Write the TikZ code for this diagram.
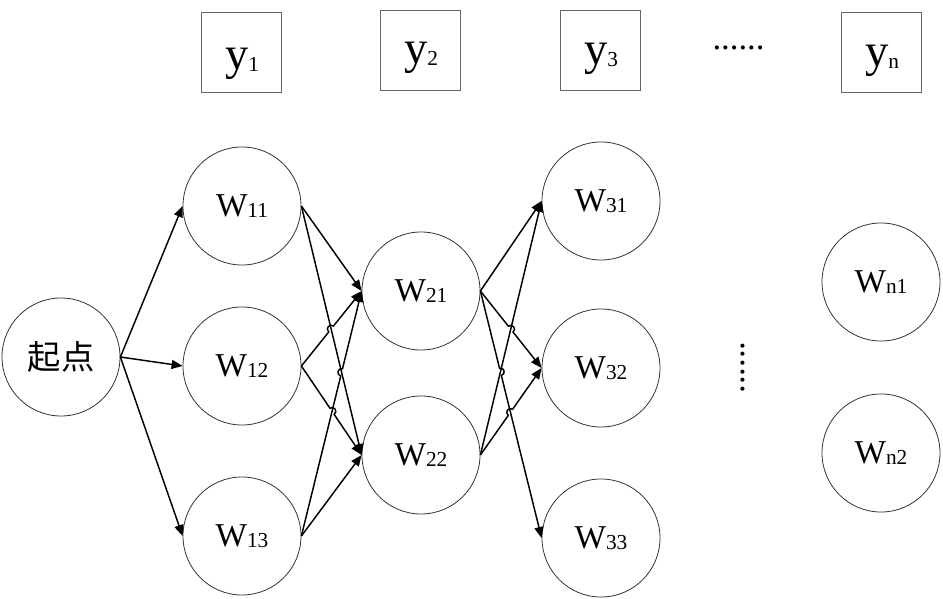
\documentclass[tikz,border=0pt]{standalone}
\usepackage{fontspec}
\setmainfont{Liberation Serif}
\newfontfamily\cjk{Noto Sans CJK SC}
\usetikzlibrary{arrows.meta,calc}
\newcommand\wlab[1]{{\fontsize{25pt}{25pt}\selectfont W}\raisebox{-0.8pt}{\fontsize{16pt}{16pt}\selectfont #1}}
\newcommand\ylab[1]{{\fontsize{35pt}{35pt}\selectfont y}\raisebox{-1.5pt}{\fontsize{16pt}{16pt}\selectfont #1}}
\def\myhopr{2.8pt}
\newcommand\hopedge[4]{%
  \path (intersection of #1.east--#2.west and #3.east--#4.west) coordinate (hx);
  \draw[conn] (#1.east) -- ($(hx)!\myhopr!(#1.east)$) to[bend left=90,looseness=1.7] ($(hx)!\myhopr!(#2.west)$) -- (#2.west);
}
\begin{document}
\begin{tikzpicture}[x=0.75pt,y=-0.75pt,
  circ/.style={circle,draw=black!80,line width=0.6pt,minimum size=88.5pt,inner sep=0pt},
  ybox/.style={draw=black!60,line width=0.7pt,minimum size=60pt,inner sep=0pt},
  conn/.style={line width=1.1pt,-{Triangle[length=8.25pt,width=6.75pt]}},
  dots/.style={inner sep=0pt,font=\fontsize{26pt}{26pt}\selectfont}]
\useasboundingbox (0,0) rectangle (943,599);
% top boxes
\node[ybox] (b1) at (241,52.5) {};
\node[ybox] (b2) at (420,50) {};
\node[ybox] (b3) at (600,50) {};
\node[ybox] (bn) at (881,52) {};
\node[anchor=base,inner sep=0pt] (t1) at ($(b1)+(1,17)$) {\ylab{1}};
\node[anchor=base,inner sep=0pt] (t2) at ($(b2)+(1,14)$) {\ylab{2}};
\node[anchor=base,inner sep=0pt] (t3) at ($(b3)+(1,15)$) {\ylab{3}};
\node[anchor=base,inner sep=0pt] (tn) at ($(bn)+(1,15)$) {\ylab{n}};
\node[dots] (hd) at (738.5,47.5) {......};
% circles
\node[circ] (S) at (61,357) {\cjk\fontsize{25pt}{25pt}\selectfont 起点};
\node[circ] (W11) at (242,206) {\wlab{11}};
\node[circ] (W12) at (242,366) {\wlab{12}};
\node[circ] (W13) at (242,536) {\wlab{13}};
\node[circ] (W21) at (421,291) {\wlab{21}};
\node[circ] (W22) at (421,455) {\wlab{22}};
\node[circ] (W31) at (601,201) {\wlab{31}};
\node[circ] (W32) at (601,368) {\wlab{32}};
\node[circ] (W33) at (601,538) {\wlab{33}};
\node[circ] (Wn1) at (881,282) {\wlab{n1}};
\node[circ] (Wn2) at (881,453) {\wlab{n2}};
\node[dots,rotate=90] (vd) at (742.5,367.5) {......};
% connectors
\draw[conn] (S.east) -- (W11.west);
\draw[conn] (S.east) -- (W12.west);
\draw[conn] (S.east) -- (W13.west);
\draw[conn] (W11.east) -- (W21.west);
\draw[conn] (W11.east) -- (W22.west);
\hopedge{W12}{W21}{W11}{W22}
\hopedge{W12}{W22}{W13}{W21}
\hopedge{W13}{W21}{W11}{W22}
\draw[conn] (W13.east) -- (W22.west);
\draw[conn] (W21.east) -- (W31.west);
\hopedge{W21}{W32}{W22}{W31}
\hopedge{W21}{W33}{W22}{W31}
\draw[conn] (W22.east) -- (W31.west);
\hopedge{W22}{W32}{W21}{W33}
\end{tikzpicture}
\end{document}
